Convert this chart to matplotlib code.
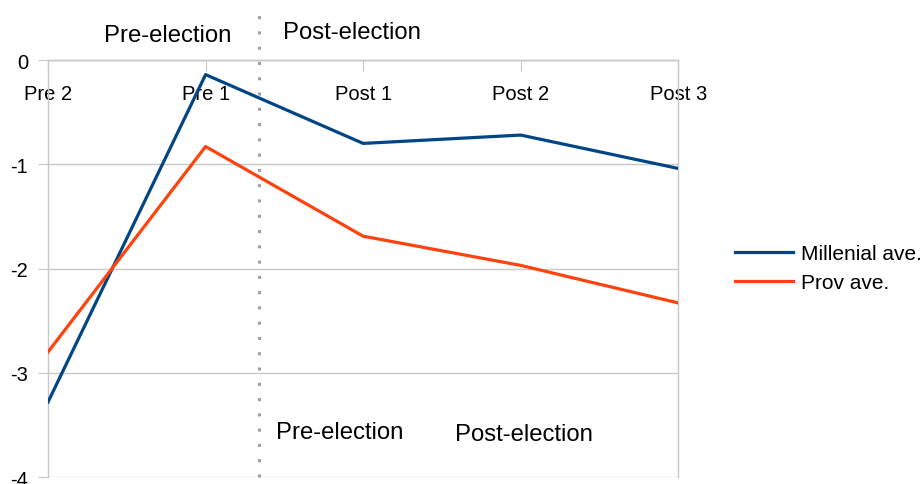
import matplotlib
matplotlib.use("Agg")
import matplotlib.pyplot as plt

plt.rcParams['font.family'] = ['Liberation Sans', 'DejaVu Sans']

waves = ['Pre 2', 'Pre 1', 'Post 1', 'Post 2', 'Post 3']
millenial_ave = [-3.28, -0.14, -0.80, -0.72, -1.04]
prov_ave = [-2.80, -0.83, -1.69, -1.97, -2.33]
y_ticks = [0, -1, -2, -3, -4]

# where the election falls between Pre 1 and Post 1
election_x = 1.34

BLUE = '#004586'
ORANGE = '#ff420e'
GRID = '#c8c8c8'

fig = plt.figure(figsize=(9.24, 4.85), dpi=100)
ax = fig.add_axes([0.052, 0.0144, 0.682, 0.8598])

x = list(range(len(waves)))
ax.plot(x, millenial_ave, color=BLUE, lw=2.3, label='Millenial ave.', zorder=3)
ax.plot(x, prov_ave, color=ORANGE, lw=2.3, label='Prov ave.', zorder=3)

ax.set_xlim(0, len(waves) - 1)
ax.set_ylim(-4, 0)
ax.set_yticks(y_ticks)
ax.set_yticklabels([str(v) for v in y_ticks])
ax.set_xticks(x)
ax.set_xticklabels(waves)

# category axis sits on the zero line, labels hang below it
ax.spines['bottom'].set_position(('data', 0))
for s in ax.spines.values():
    s.set_color(GRID)
    s.set_linewidth(1)
ax.yaxis.grid(True, color=GRID, lw=1)
ax.set_axisbelow(True)
ax.tick_params(axis='x', direction='out', length=8, color=GRID, pad=9, labelsize=14.5)
ax.tick_params(axis='y', direction='out', length=7, color=GRID, pad=7.5, labelsize=14.5)

# election divider
ax.plot([election_x, election_x], [-4, 0.51], color='#a0a0a0', lw=2.2,
        linestyle=(0, (1, 4)), dash_capstyle='butt', clip_on=False, zorder=2)

ax.text(0.76, 0.24, 'Pre-election', ha='center', va='center', fontsize=17.2)
ax.text(1.93, 0.27, 'Post-election', ha='center', va='center', fontsize=17.2)
ax.text(1.85, -3.57, 'Pre-election', ha='center', va='center', fontsize=17.2)
ax.text(3.02, -3.59, 'Post-election', ha='center', va='center', fontsize=17.2)

fig.legend(loc='center left', bbox_to_anchor=(0.795, 0.445), frameon=False,
           fontsize=15, handlelength=2.8, handletextpad=0.4, borderpad=0,
           borderaxespad=0, labelspacing=0.5)

fig.savefig('out.png', dpi=100)
